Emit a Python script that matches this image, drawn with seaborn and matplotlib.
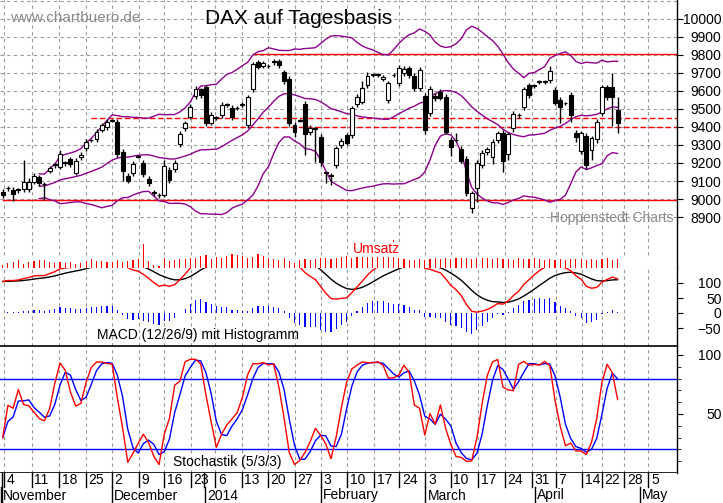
import numpy as np
import pandas as pd
import matplotlib
matplotlib.use("Agg")
import matplotlib.pyplot as plt
import seaborn as sns

opens = [9040,9060,9050,9050,9055,9055,9096,9120,9083,9157,9190,9180,9200,9220,9146,9232,9282,9325,9331,9385,
         9398,9435,9430,9263,9128,9142,9235,9200,9111,9040,9022,9022,9161,9165,9306,9393,9457,9572,9609,9620,
         9424,9450,9467,9522,9507,9505,9520,9411,9609,9759,9740,9737,9761,9765,9707,9667,9411,9435,9528,9370,
         9390,9346,9146,9128,9189,9300,9356,9356,9528,9541,9633,9690,9689,9667,9550,9687,9643,9698,9726,9683,
         9615,9572,9476,9572,9594,9569,9328,9326,9278,9220,8948,9060,9189,9261,9235,9328,9369,9248,9392,9465,
         9509,9633,9628,9650,9650,9661,9606,9550,9531,9578,9369,9268,9350,9270,9331,9476,9620,9620,9494]
closes = [9020,9060,9030,9052,9095,9095,9128,9090,9083,9170,9190,9250,9200,9193,9211,9245,9318,9325,9374,9409,
          9428,9435,9250,9157,9102,9194,9235,9139,9087,9031,9022,9185,9105,9198,9360,9420,9513,9609,9578,9424,
          9467,9450,9522,9522,9454,9505,9530,9565,9748,9735,9755,9737,9761,9742,9655,9420,9374,9435,9359,9394,
          9390,9207,9146,9135,9281,9322,9313,9504,9568,9615,9685,9690,9689,9680,9643,9687,9730,9722,9689,9615,
          9717,9383,9609,9561,9563,9374,9290,9326,9213,9031,9031,9198,9257,9276,9319,9365,9211,9359,9470,9465,
          9609,9578,9628,9650,9650,9711,9535,9513,9531,9467,9343,9365,9189,9337,9430,9620,9565,9568,9424]
upper_wick = [15,10,15,10,120,20,15,15,10,15,10,22,10,15,15,15,15,10,15,15,
              15,10,15,15,15,15,10,15,15,10,10,30,15,20,15,15,15,20,10,15,
              15,10,15,10,15,10,10,15,15,15,10,10,15,15,10,15,15,10,15,15,
              10,15,10,10,15,15,10,15,15,40,20,10,10,10,15,10,15,15,15,15,
              15,15,20,15,15,15,15,40,15,20,15,20,15,15,15,15,15,15,20,15,
              15,10,10,10,10,30,15,15,10,15,15,15,15,15,15,15,15,80,70]
lower_wick = [15,15,40,15,15,15,15,15,90,15,15,15,15,15,15,15,15,10,15,15,
              15,10,15,55,15,15,10,15,15,15,15,10,15,15,15,15,15,15,15,20,
              15,10,15,10,15,10,10,15,15,15,10,10,15,15,15,15,30,10,115,15,
              185,25,55,50,15,15,15,15,15,15,15,10,10,10,15,10,15,15,15,15,
              15,20,15,15,15,15,50,10,15,15,25,75,15,15,40,15,60,30,20,15,
              15,15,10,10,10,15,15,90,10,40,25,20,20,55,20,15,15,160,55]
volume = [3,5,6,8,4,6,7,8,8,6,5,6,5,6,4,5,7,9,7,7,
          6,6,8,6,7,8,9,24,7,3,2,10,7,8,9,9,10,10,12,13,
          9,11,10,12,14,13,12,10,11,14,12,10,9,8,10,7,5,8,9,8,
          9,10,10,9,10,11,12,10,13,11,12,12,14,16,12,28,10,9,8,8,
          9,8,9,10,9,10,9,10,10,10,9,10,10,10,9,10,9,9,8,10,
          9,9,10,9,8,9,8,9,8,9,9,9,8,9,8,9,10,8,9]

week_labels = ["4","11","18","25","2","9","16","23","6","13","20","27","3","10","17","24",
               "3","10","17","24","31","7","14","22","28","5"]
week_idx = [0.2,5.6,10.8,16,21,26.2,31,36.1,40.8,45.9,50.9,56.1,61.1,66.1,71.3,76.1,
            81.1,86,91.2,96.4,101.6,106.2,111.2,115.0,119.3,123.9]
month_labels = ["November","December","2014","February","March","April","May"]
month_idx = [-0.3,21,38.9,61.1,81.1,102.2,122.3]

df = pd.DataFrame({"o": opens, "c": closes})
df["h"] = df[["o","c"]].max(axis=1) + np.array(upper_wick)
df["l"] = df[["o","c"]].min(axis=1) - np.array(lower_wick)
df["x"] = np.arange(len(df))
df["vol"] = volume
mid = df["c"].rolling(20, min_periods=8).mean()
sd = df["c"].rolling(20, min_periods=8).std(ddof=0)
df["mid"], df["up"], df["dn"] = mid, mid + 2*sd, mid - 2*sd
e12 = df["c"].ewm(span=12, adjust=False).mean()
e26 = df["c"].ewm(span=26, adjust=False).mean()
df["macd"] = e12 - e26 + 105
df["sig"] = df["macd"].ewm(span=9, adjust=False).mean()
df["hist"] = df["macd"] - df["sig"]
lo5 = df["l"].rolling(5, min_periods=1).min()
hi5 = df["h"].rolling(5, min_periods=1).max()
k = 100*(df["c"]-lo5)/(hi5-lo5)
df["k"] = k.rolling(3, min_periods=1).mean()
df["d"] = df["k"].rolling(3, min_periods=1).mean()

W, H = 723, 503
plt.rcParams["font.family"] = "Liberation Sans"
fig = plt.figure(figsize=(W/100, H/100), dpi=100)
xl = (-0.52, 129.4)
AW = 677/W
def box(top, bot):
    return [0, 1-bot/H, AW, (bot-top)/H]
axp = fig.add_axes(box(0, 268))
axv = fig.add_axes(box(238, 268), facecolor="none")
axm = fig.add_axes(box(268, 346))
axs = fig.add_axes(box(346, 473))
axd = fig.add_axes(box(473, 503))
grid = dict(color="#9a9a9a", lw=0.8, ls=(0, (3, 3)))
purple = "#8c008c"

for ax in (axp, axv, axm, axs, axd):
    ax.set_xlim(*xl)
    ax.set_xticks([])
    for s in ("left", "top", "bottom"):
        ax.spines[s].set_visible(False)
    ax.spines["right"].set_linewidth(1)
    ax.yaxis.tick_right()
    ax.tick_params(axis="y", direction="out", length=4, pad=28, labelsize=10)

# price
axp.set_ylim(8617, 10105)
axp.set_yticks(range(8900, 10001, 100))
for t in axp.get_yticklabels():
    t.set_ha("right")
for y in range(8900, 10101, 100):
    axp.axhline(y, **grid, zorder=0)
for xi in week_idx:
    axp.plot([xi, xi], [8690, 10105], **grid, zorder=0)
    axm.axvline(xi, **grid, zorder=0)
    axs.axvline(xi, **grid, zorder=0)
axp.plot([48, 129.4], [9805, 9805], color="red", lw=1)
axp.plot([0, 129.4], [8995, 8995], color="red", lw=1)
axp.plot([17, 129.4], [9448, 9448], color="red", lw=1, ls=(0, (4, 2)))
axp.plot([36, 129.4], [9398, 9398], color="red", lw=1, ls=(0, (4, 2)))
for col in ("up", "mid", "dn"):
    sns.lineplot(data=df, x="x", y=col, ax=axp, color=purple, lw=1, legend=False)
axp.vlines(df["x"], df["l"], df["h"], color="black", lw=1, zorder=3)
body = (df["c"] - df["o"]).abs().clip(lower=3)
axp.bar(df["x"], body, bottom=df[["o","c"]].min(axis=1), width=0.75,
        color=np.where(df["c"] >= df["o"], "white", "black"), edgecolor="black", lw=0.8, zorder=4)
axp.set_xlabel(""); axp.set_ylabel("")
fig.text(10/W, 1-18/H, "www.chartbuero.de", color="#8a8a8a", fontsize=11, va="center")
fig.text(205/W, 1-18/H, "DAX auf Tagesbasis", color="black", fontsize=15, va="center")
fig.text(550/W, 1-218/H, "Hoppenstedt Charts", color="#8a8a8a", fontsize=10, va="center")

# volume
axv.set_ylim(0, 30)
axv.set_yticks([])
axv.spines["right"].set_visible(False)
axv.bar(df["x"], df["vol"], width=0.22, color="red", zorder=1)
axv.text(376/677, 0.62, "Umsatz", color="red", fontsize=10, ha="center", va="center",
         transform=axv.transAxes, zorder=3, bbox=dict(facecolor="white", edgecolor="none", pad=0.5))

# MACD
axm.set_ylim(-110, 150)
axm.set_yticks([100, 50, 0, -50])
for t in axm.get_yticklabels():
    t.set_ha("right")
axm.bar(df["x"], df["hist"], width=0.22, color="blue")
sns.lineplot(data=df, x="x", y="sig", ax=axm, color="black", lw=1)
sns.lineplot(data=df, x="x", y="macd", ax=axm, color="red", lw=1)
axm.set_xlabel(""); axm.set_ylabel("")
axm.text(97/677, -85, "MACD (12/26/9) mit Histogramm", fontsize=10, transform=axm.get_yaxis_transform())
axm.plot([0, 1], [0, 0], transform=axm.transAxes, color="black", lw=1.2)

# stoch
axs.set_ylim(0, 107.6)
axs.set_yticks([100, 50])
axs.set_yticks([90, 80, 70, 60, 40, 30, 20, 10], minor=True)
axs.tick_params(axis="y", which="minor", direction="out", length=3)
for t in axs.get_yticklabels():
    t.set_ha("right")
axs.axhline(80, color="blue", lw=1)
axs.axhline(20, color="blue", lw=1)
sns.lineplot(data=df, x="x", y="d", ax=axs, color="blue", lw=1)
sns.lineplot(data=df, x="x", y="k", ax=axs, color="red", lw=1)
axs.set_xlabel(""); axs.set_ylabel("")
axs.text(227/677, 9, "Stochastik (5/3/3)", fontsize=10, ha="center", va="center",
         transform=axs.get_yaxis_transform())
axs.plot([0, 1], [0, 0], transform=axs.transAxes, color="black", lw=1.2)
axs.plot([0, 1], [1, 1], transform=axs.transAxes, color="black", lw=1.2)

# date axis
axd.set_ylim(0, 2)
axd.set_yticks([])
axd.spines["right"].set_visible(False)
axd.plot([-0.2, -0.2], [0, 2], color="black", lw=1)
for xi, lab in zip(week_idx, week_labels):
    axd.plot([xi, xi], [1.05, 2], color="black", lw=1)
    axd.text(xi + 0.5, 1.5, lab, fontsize=10, va="center")
for xi, lab in zip(month_idx, month_labels):
    axd.plot([xi, xi], [0, 1.05], color="black", lw=1)
    axd.text(xi + 0.4, 0.5, lab, fontsize=10, va="center")
axd.plot([38.7, 38.7], [1.05, 2], color="black", lw=1)

fig.savefig("out.png", dpi=100)
